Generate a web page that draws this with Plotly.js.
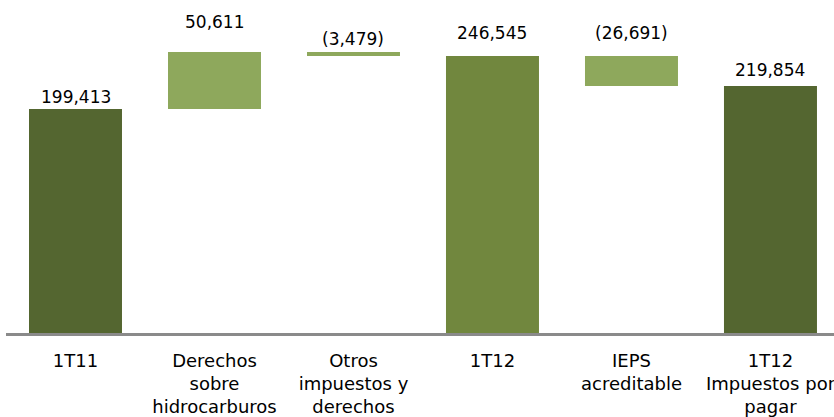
<!DOCTYPE html>
<html>
<head>
<meta charset="utf-8">
<script src="https://cdn.plot.ly/plotly-3.0.1.min.js"></script>
<style>
  html, body { margin: 0; padding: 0; background: #fff; }
  #chart { width: 834px; height: 417px; }
</style>
</head>
<body>
<div id="chart"></div>
<script>
// categories and movements (millones de pesos)
const categories = [
    '1T11',
    'Derechos<br>sobre<br>hidrocarburos',
    'Otros<br>impuestos y<br>derechos',
    '1T12',
    'IEPS<br>acreditable',
    '1T12<br>Impuestos por<br>pagar',
];
const amounts = [199413, 50611, -3479, 246545, -26691, 219854];
const kinds = ['total', 'step', 'step', 'total', 'step', 'total'];

// styling
const darkGreen = '#546630';
const midGreen = '#71873e';
const lightGreen = '#8ea85c';
const barColours = [darkGreen, lightGreen, lightGreen, midGreen, lightGreen, darkGreen];
const labelShift = [12, 30, 13, 23, 23, 16];

// running totals -> base + height of each bar
const bases = [];
const heights = [];
let running = 0;
amounts.forEach((v, i) => {
    if (kinds[i] === 'total') {
        running = v;
        bases.push(0);
        heights.push(v);
    } else {
        const start = running;
        running += v;
        bases.push(Math.min(start, running));
        heights.push(Math.abs(v));
    }
});

const fmt = (v) => {
    const s = Math.abs(v).toLocaleString('en-US');
    return v < 0 ? '(' + s + ')' : s;
};

const xs = categories.map((c, i) => i);

const trace = {
    type: 'bar',
    x: xs,
    y: heights,
    base: bases,
    marker: { color: barColours, line: { width: 0 } },
    hoverinfo: 'skip',
};

const annotations = amounts.map((v, i) => ({
    x: i,
    y: bases[i] + heights[i],
    xref: 'x',
    yref: 'y',
    text: fmt(v),
    showarrow: false,
    yanchor: 'middle',
    yshift: labelShift[i],
    font: { family: 'DejaVu Sans', size: 17, color: '#000' },
}));

const layout = {
    width: 834,
    height: 417,
    margin: { l: 6, r: 0, t: 0, b: 84 },
    paper_bgcolor: '#fff',
    plot_bgcolor: '#fff',
    showlegend: false,
    bargap: 0.331,
    font: { family: 'DejaVu Sans', size: 17, color: '#000' },
    xaxis: {
        range: [-0.5, 5.457],
        tickmode: 'array',
        tickvals: xs,
        ticktext: categories,
        ticks: '',
        ticklabelstandoff: 9,
        ticklabeloverflow: 'allow',
        showgrid: false,
        zeroline: false,
        showline: true,
        linecolor: '#8a8a8a',
        linewidth: 3,
        tickfont: { family: 'DejaVu Sans', size: 18, color: '#000' },
    },
    yaxis: {
        range: [0, 296400],
        visible: false,
        showgrid: false,
        zeroline: false,
    },
    annotations,
};

Plotly.newPlot('chart', [trace], layout, { displayModeBar: false, staticPlot: true });
</script>
</body>
</html>
